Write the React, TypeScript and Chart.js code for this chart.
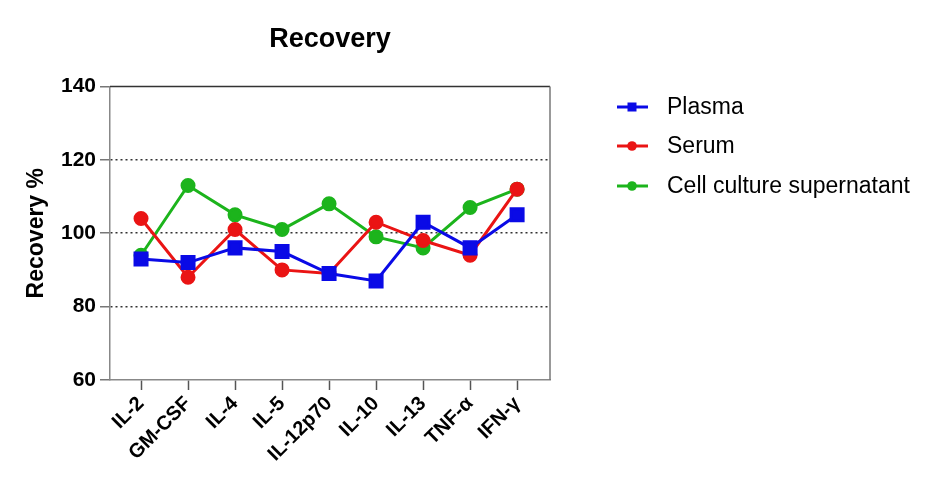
import { useEffect, useRef } from "react";
import Chart from "chart.js/auto";

const cytokines = ["IL-2", "GM-CSF", "IL-4", "IL-5", "IL-12p70", "IL-10", "IL-13", "TNF-α", "IFN-γ"];
const plasma = [93, 92, 96, 95, 89, 87, 103, 96, 105];
const serum = [104, 88, 101, 90, 89, 103, 98, 94, 112];
const supernatant = [94, 113, 105, 101, 108, 99, 96, 107, 112];
const yTicks = [60, 80, 100, 120, 140];
const seriesNames = ["Plasma", "Serum", "Cell culture supernatant"];

const BLUE = "#0a0ae6";
const RED = "#ea1414";
const GREEN = "#1cb41c";
const FONT = "'Liberation Sans', Arial, Helvetica, sans-serif";

// frame lines on top and right of the plot area
const framePlugin = {
  id: "frame",
  afterDraw(chart: Chart) {
    const { ctx, chartArea } = chart;
    ctx.save();
    ctx.lineWidth = 1.5;
    ctx.strokeStyle = "#333";
    ctx.beginPath();
    ctx.moveTo(chartArea.left, chartArea.top);
    ctx.lineTo(chartArea.right, chartArea.top);
    ctx.stroke();
    ctx.strokeStyle = "#777";
    ctx.beginPath();
    ctx.moveTo(chartArea.right, chartArea.top);
    ctx.lineTo(chartArea.right, chartArea.bottom);
    ctx.stroke();
    ctx.restore();
  },
};

// legend on the right, line + marker + label
const sideLegend = {
  id: "sideLegend",
  afterDraw(chart: Chart) {
    const ctx = chart.ctx;
    const rows = [107, 146, 186];
    chart.data.datasets.forEach((ds: any, i: number) => {
      const y = rows[i];
      ctx.save();
      ctx.strokeStyle = ds.borderColor;
      ctx.fillStyle = ds.borderColor;
      ctx.lineWidth = 3;
      ctx.beginPath();
      ctx.moveTo(617, y);
      ctx.lineTo(648, y);
      ctx.stroke();
      if (ds.pointStyle === "rect") {
        ctx.fillRect(627.5, y - 4.5, 9, 9);
      } else {
        ctx.beginPath();
        ctx.arc(632, y, 4.8, 0, Math.PI * 2);
        ctx.fill();
      }
      ctx.fillStyle = "#000";
      ctx.font = `23px ${FONT}`;
      ctx.textBaseline = "middle";
      ctx.fillText(ds.label, 667, y + 1);
      ctx.restore();
    });
  },
};

export default function App() {
  const canvasRef = useRef<HTMLCanvasElement>(null);

  useEffect(() => {
    if (!canvasRef.current) return;
    Chart.defaults.font.family = FONT;

    const toPoints = (vals: number[]) => vals.map((y, i) => ({ x: i, y }));

    const chart = new Chart(canvasRef.current, {
      type: "line",
      data: {
        datasets: [
          {
            label: seriesNames[0],
            data: toPoints(plasma),
            borderColor: BLUE,
            backgroundColor: BLUE,
            pointBackgroundColor: BLUE,
            pointBorderColor: BLUE,
            pointStyle: "rect",
            pointRadius: 8.5,
            borderWidth: 3,
            tension: 0,
          },
          {
            label: seriesNames[1],
            data: toPoints(serum),
            borderColor: RED,
            backgroundColor: RED,
            pointBackgroundColor: RED,
            pointBorderColor: RED,
            pointStyle: "circle",
            pointRadius: 6,
            borderWidth: 3,
            tension: 0,
          },
          {
            label: seriesNames[2],
            data: toPoints(supernatant),
            borderColor: GREEN,
            backgroundColor: GREEN,
            pointBackgroundColor: GREEN,
            pointBorderColor: GREEN,
            pointStyle: "circle",
            pointRadius: 6,
            borderWidth: 3,
            tension: 0,
          },
        ],
      },
      options: {
        responsive: true,
        maintainAspectRatio: false,
        animation: false,
        layout: { padding: { left: 0, right: 390, top: 0, bottom: 0 } },
        plugins: {
          legend: { display: false },
          tooltip: { enabled: false },
          title: {
            display: true,
            text: "Recovery",
            fullSize: false,
            color: "#000",
            font: { size: 27, weight: "bold" },
            padding: { top: 23, bottom: 31 },
          },
        },
        scales: {
          x: {
            type: "linear",
            min: -0.66,
            max: 8.7,
            afterBuildTicks: (axis: any) => {
              axis.ticks = cytokines.map((_, i) => ({ value: i }));
            },
            afterFit: (scale: any) => {
              scale.height = 112;
            },
            ticks: {
              autoSkip: false,
              minRotation: 45,
              maxRotation: 45,
              color: "#000",
              padding: 2,
              font: { size: 20, weight: "bold" },
              callback: (v: any) => cytokines[v as number] ?? "",
            },
            grid: {
              drawOnChartArea: false,
              drawTicks: true,
              tickLength: 10,
              tickColor: "#555",
              tickWidth: 1.5,
            },
            border: { color: "#888", width: 1.5 },
          },
          y: {
            min: 60,
            max: 140,
            afterBuildTicks: (axis: any) => {
              axis.ticks = yTicks.map((v) => ({ value: v }));
            },
            afterFit: (scale: any) => {
              scale.width = 110;
            },
            ticks: {
              color: "#000",
              padding: 4,
              font: { size: 21, weight: "bold" },
            },
            grid: {
              color: (c: any) =>
                c.tick && (c.tick.value === 60 || c.tick.value === 140) ? "rgba(0,0,0,0)" : "#333",
              lineWidth: 1.5,
              tickColor: "#777",
              tickLength: 10,
              tickWidth: 1.5,
              tickBorderDash: [],
            },
            border: { color: "#888", width: 1.5, dash: [2, 3] },
            title: {
              display: true,
              text: "Recovery %",
              color: "#000",
              font: { size: 23, weight: "bold" },
              padding: { top: 23, bottom: 0 },
            },
          },
        },
      },
      plugins: [framePlugin, sideLegend],
    });

    return () => chart.destroy();
  }, []);

  return (
    <div style={{ position: "absolute", left: 0, top: 0, width: 940, height: 492, background: "#fff" }}>
      <canvas ref={canvasRef} />
    </div>
  );
}
